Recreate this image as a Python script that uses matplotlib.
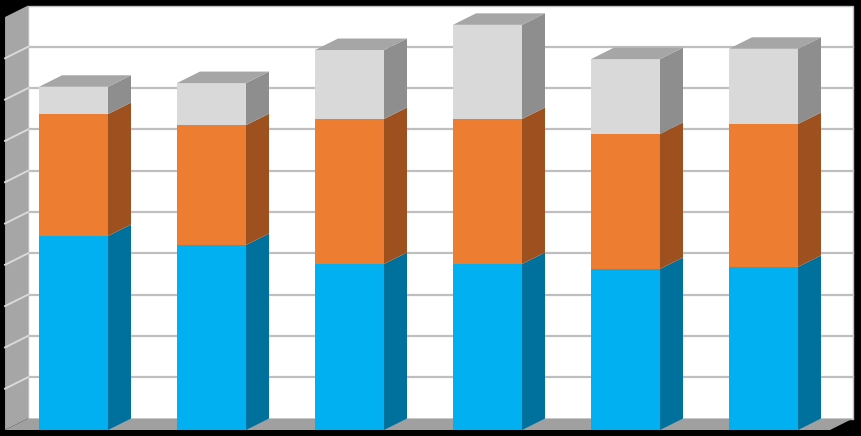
import numpy as np
import matplotlib
matplotlib.use("Agg")
from matplotlib import pyplot as plt
from matplotlib.patches import Polygon

# segment heights per bar (bottom -> top)
cats = np.arange(6)
blue = [4.70, 4.48, 4.02, 4.02, 3.90, 3.95]
orange = [2.95, 2.90, 3.51, 3.51, 3.27, 3.46]
grey = [0.66, 1.02, 1.67, 2.28, 1.81, 1.82]
ymax = 10
ticks = np.arange(1, 10)

fronts = ['#00b0f0', '#ed7d31', '#d9d9d9']
sides = ['#00719c', '#9e501f', '#8e8e8e']
top_col = '#a6a6a6'

w = 0.5
dx = 23 / 138.
dy = 11.5 / 41.3

fig = plt.figure(figsize=(8.62, 4.36), dpi=100, facecolor='black')
ax = fig.add_axes([0, 0, 1, 1])
ax.set_facecolor('black')
ax.set_xlim(-73.5 / 138., (862 - 73.5) / 138.)
ax.set_ylim(-6 / 41.3, 430 / 41.3)
ax.axis('off')

xl = -0.496
xr = 5.482

# back wall
ax.add_patch(Polygon([(xl + dx, dy), (xr + dx, dy), (xr + dx, ymax + dy), (xl + dx, ymax + dy)],
                     closed=True, fc='white', ec='#bfbfbf', lw=1, zorder=1))
for t in ticks:
    ax.plot([xl + dx, xr + dx], [t + dy, t + dy], color='#bfbfbf', lw=1.6, zorder=2)

# floor
ax.add_patch(Polygon([(xl, 0), (xr, 0), (xr + dx, dy), (xl + dx, dy)],
                     closed=True, fc='#a0a0a0', ec='none', zorder=2))
# left wall
ax.add_patch(Polygon([(xl, 0), (xl + dx, dy), (xl + dx, ymax + dy), (xl, ymax)],
                     closed=True, fc='#a6a6a6', ec='none', zorder=2))
for t in ticks:
    ax.plot([xl, xl + dx], [t, t + dy], color='#d9d9d9', lw=1.4, zorder=3)

# bars
bottom = np.zeros(6)
for vals, fc, sc in zip([blue, orange, grey], fronts, sides):
    vals = np.array(vals)
    ax.bar(cats, vals, w, bottom=bottom, color=fc, align='center', zorder=5, lw=0)
    for i in cats:
        x1 = i + w / 2
        y0 = bottom[i]
        y1 = bottom[i] + vals[i]
        ax.add_patch(Polygon([(x1, y0), (x1 + dx, y0 + dy), (x1 + dx, y1 + dy), (x1, y1)],
                             closed=True, fc=sc, ec='none', zorder=5))
    bottom = bottom + vals

for i in cats:
    x0 = i - w / 2
    x1 = i + w / 2
    y1 = bottom[i]
    ax.add_patch(Polygon([(x0, y1), (x0 + dx, y1 + dy), (x1 + dx, y1 + dy), (x1, y1)],
                         closed=True, fc=top_col, ec='none', zorder=6))

fig.savefig('out.png', dpi=100, facecolor='black')
